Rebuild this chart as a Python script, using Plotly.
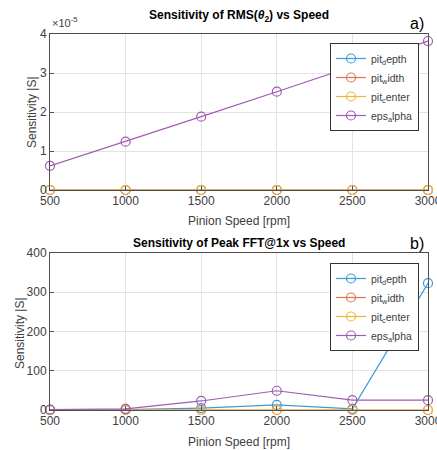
import plotly.graph_objects as go

speeds = [500, 1000, 1500, 2000, 2500, 3000]
series_names = ["pit<sub>d</sub>epth", "pit<sub>w</sub>idth", "pit<sub>c</sub>enter", "eps<sub>a</sub>lpha"]
colors = ["#3d9bd4", "#e07650", "#f2b53a", "#a05cb0"]

# Sensitivity of RMS(theta2)
rms_pit_depth = [0, 0, 0, 0, 0, 0]
rms_pit_width = [0, 0, 0, 0, 0, 0]
rms_pit_center = [0, 0, 0, 0, 0, 0]
rms_eps_alpha = [0.62e-5, 1.24e-5, 1.88e-5, 2.52e-5, 3.17e-5, 3.82e-5]

# Sensitivity of Peak FFT@1x
fft_pit_depth = [0.5, 1, 5, 13, 3, 323]
fft_pit_width = [0, 0, 0, 0, 0, 0]
fft_pit_center = [0, 0, 0, 0, 0, 0]
fft_eps_alpha = [1, 3, 23, 49, 25, 25]

top_yticks = [0, 1e-5, 2e-5, 3e-5, 4e-5]
top_yticktext = ["0", "1", "2", "3", "4"]
bot_yticks = [0, 100, 200, 300, 400]

FONT = "Liberation Sans, Arial, sans-serif"
W, H = 437, 450

fig = go.Figure()
top = [rms_pit_depth, rms_pit_width, rms_pit_center, rms_eps_alpha]
bot = [fft_pit_depth, fft_pit_width, fft_pit_center, fft_eps_alpha]
for name, c, ys in zip(series_names, colors, top):
    fig.add_trace(go.Scatter(x=speeds, y=ys, name=name, mode="lines+markers",
                             line=dict(color=c, width=1.2),
                             marker=dict(symbol="circle-open", size=9, color=c, line=dict(width=1.2)),
                             xaxis="x", yaxis="y", legend="legend", cliponaxis=False))
for name, c, ys in zip(series_names, colors, bot):
    fig.add_trace(go.Scatter(x=speeds, y=ys, name=name, mode="lines+markers",
                             line=dict(color=c, width=1.2),
                             marker=dict(symbol="circle-open", size=9, color=c, line=dict(width=1.2)),
                             xaxis="x2", yaxis="y2", legend="legend2", cliponaxis=False))

xl, xr = 50 / W, 428 / W
def py(p):
    return 1 - p / H

axis_common = dict(showline=True, mirror=True, linecolor="#4d4d4d", linewidth=1,
                   showgrid=True, gridcolor="#e3e3e3", gridwidth=1,
                   ticks="inside", ticklen=4, tickcolor="#4d4d4d",
                   tickfont=dict(family=FONT, size=12, color="#404040"),
                   ticklabeloverflow="allow",
                   zeroline=False, automargin=False)

legend_common = dict(xanchor="right", yanchor="top",
                     bgcolor="white", bordercolor="#333333", borderwidth=1,
                     font=dict(family=FONT, size=10.5, color="#404040"),
                     itemwidth=30, tracegroupgap=0)

label_font = dict(family=FONT, size=12, color="#404040")

fig.update_layout(
    width=W, height=H,
    margin=dict(l=0, r=0, t=0, b=0, autoexpand=False),
    paper_bgcolor="white", plot_bgcolor="white",
    font=dict(family=FONT, color="#404040"),
    xaxis=dict(domain=[xl, xr], anchor="y", range=[500, 3000], tickvals=speeds,
               title=dict(text="Pinion Speed [rpm]", font=label_font, standoff=9),
               **axis_common),
    yaxis=dict(domain=[py(190), py(34)], anchor="x", range=[0, 4e-5],
               tickvals=top_yticks, ticktext=top_yticktext,
               **axis_common),
    xaxis2=dict(domain=[xl, xr], anchor="y2", range=[500, 3000], tickvals=speeds,
                title=dict(text="Pinion Speed [rpm]", font=label_font, standoff=10),
                **axis_common),
    yaxis2=dict(domain=[py(410), py(253)], anchor="x2", range=[0, 400], tickvals=bot_yticks,
                **axis_common),
    legend=dict(x=419 / W, y=py(43), **legend_common),
    legend2=dict(x=419 / W, y=py(263), **legend_common),
    showlegend=True,
    annotations=[
        dict(text="Sensitivity |S|", x=32 / W, y=py(112), xref="paper", yref="paper", showarrow=False,
             textangle=-90, xanchor="center", yanchor="middle", font=label_font),
        dict(text="Sensitivity |S|", x=20 / W, y=py(333), xref="paper", yref="paper", showarrow=False,
             textangle=-90, xanchor="center", yanchor="middle", font=label_font),
        dict(text="<b>Sensitivity of RMS(<i>θ</i><sub>2</sub>) vs Speed</b>", x=239 / W, y=py(16),
             xref="paper", yref="paper", showarrow=False, xanchor="center", yanchor="middle",
             font=dict(family=FONT, size=12, color="black")),
        dict(text="<b>Sensitivity of Peak FFT@1x vs Speed</b>", x=239 / W, y=py(243),
             xref="paper", yref="paper", showarrow=False, xanchor="center", yanchor="middle",
             font=dict(family=FONT, size=12, color="black")),
        dict(text="a)", x=426 / W, y=py(23), xref="paper", yref="paper", showarrow=False,
             xanchor="right", yanchor="middle", font=dict(family=FONT, size=16, color="black")),
        dict(text="b)", x=426 / W, y=py(243), xref="paper", yref="paper", showarrow=False,
             xanchor="right", yanchor="middle", font=dict(family=FONT, size=16, color="black")),
        dict(text="×10<sup>-5</sup>", x=50 / W, y=py(31), xref="paper", yref="paper", showarrow=False,
             xanchor="left", yanchor="bottom", font=dict(family=FONT, size=11, color="#404040")),
    ],
)

fig.write_html("out.html", config={"displayModeBar": False},
               post_script="document.body.style.margin='0';document.body.style.overflow='hidden';")
